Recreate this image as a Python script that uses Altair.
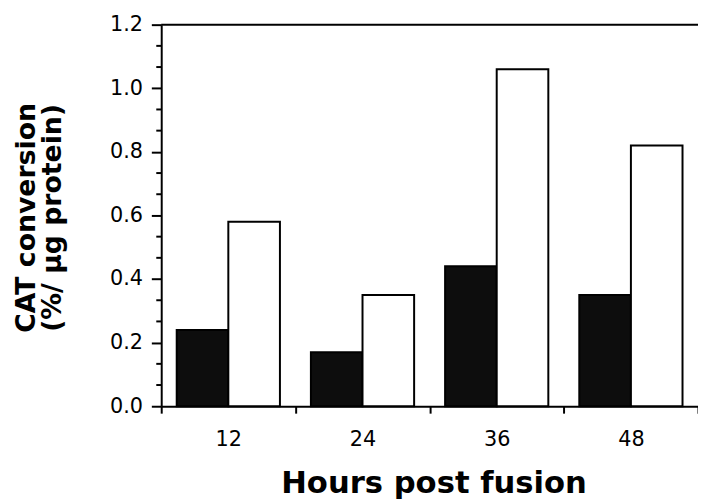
import altair as alt
import pandas as pd

# ---- data ----
hours = ["12", "24", "36", "48"]
series_names = ["solid", "open"]
solid_values = [0.24, 0.17, 0.44, 0.35]
open_values = [0.58, 0.35, 1.06, 0.82]

y_major_ticks = [0.0, 0.2, 0.4, 0.6, 0.8, 1.0, 1.2]
y_minor_ticks = [0.0667, 0.1333, 0.2667, 0.3333, 0.4667, 0.5333, 0.6667, 0.7333,
                 0.8667, 0.9333, 1.0667, 1.1333]
y_max = 1.2

rows = []
for h, s, o in zip(hours, solid_values, open_values):
    rows.append({"hours": h, "series": series_names[0], "value": s})
    rows.append({"hours": h, "series": series_names[1], "value": o})
df = pd.DataFrame(rows)
minor_df = pd.DataFrame({"value": y_minor_ticks})
top_df = pd.DataFrame({"value": [y_max]})

W, H = 543, 386
FONT = "DejaVu Sans"

yscale = alt.Scale(domain=[0, y_max], nice=False, zero=True)

y_axis = alt.Axis(
    values=y_major_ticks,
    format=".1f",
    tickSize=10,
    tickWidth=2,
    tickColor="black",
    domainWidth=2,
    domainColor="black",
    labelFont=FONT,
    labelFontSize=21,
    labelColor="black",
    labelPadding=9,
    title=["CAT conversion", "(%/ µg protein)"],
    titleFont=FONT,
    titleFontSize=27,
    titleFontWeight="bold",
    titleColor="black",
    titleAngle=-90,
    titleX=-128,
    titleY=195,
    titleBaseline="alphabetic",
    titleAlign="center",
    titleLineHeight=26,
    grid=False,
)

bars = alt.Chart(df).mark_bar(stroke="black", strokeWidth=2).encode(
    x=alt.X(
        "hours:N",
        sort=hours,
        scale=alt.Scale(paddingInner=0, paddingOuter=0),
        axis=alt.Axis(
            title="Hours post fusion",
            tickBand="extent",
            tickSize=7,
            tickWidth=2,
            tickColor="black",
            domainWidth=2,
            domainColor="black",
            labelFont=FONT,
            labelFontSize=21,
            labelColor="black",
            labelAngle=0,
            labelBaseline="alphabetic",
            labelPadding=33,
            titleFont=FONT,
            titleFontSize=31,
            titleFontWeight="bold",
            titleColor="black",
            titleX=W / 2 + 4,
            titleY=87,
            titleBaseline="alphabetic",
            titleAlign="center",
            grid=False,
        ),
    ),
    xOffset=alt.XOffset(
        "series:N",
        sort=series_names,
        scale=alt.Scale(paddingInner=0, paddingOuter=0.3),
    ),
    y=alt.Y("value:Q", scale=yscale, axis=y_axis),
    fill=alt.Fill(
        "series:N",
        scale=alt.Scale(domain=series_names, range=["#0d0d0d", "#ffffff"]),
        legend=None,
    ),
)

minor = alt.Chart(minor_df).mark_rule(color="black", strokeWidth=2).encode(
    y=alt.Y("value:Q", scale=yscale, axis=y_axis),
    x=alt.value(-5),
    x2=alt.value(0),
)

top = alt.Chart(top_df).mark_rule(color="black", strokeWidth=2).encode(
    y=alt.Y("value:Q", scale=yscale, axis=y_axis),
    x=alt.value(0),
    x2=alt.value(W),
)

chart = alt.layer(bars, minor, top).properties(
    width=W,
    height=H,
    padding={"left": 155, "top": 14, "right": 0, "bottom": 92},
    autosize=alt.AutoSizeParams(type="none"),
    background="white",
).configure_view(stroke=None)

chart.save("out.html", embed_options={"renderer": "svg", "actions": False})
